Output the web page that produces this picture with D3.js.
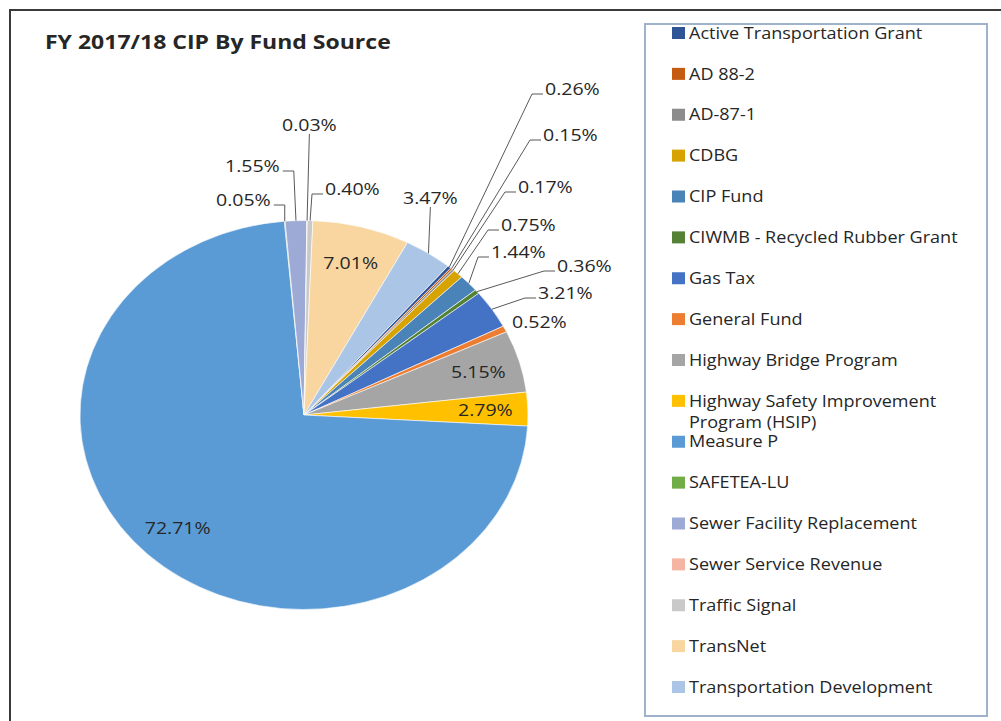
<!DOCTYPE html>
<html>
<head>
<meta charset="utf-8">
<style>
  body { margin: 0; background: #fff; }
  text { font-family: "Open Sans", sans-serif; fill: #262626; }
  .leader { fill: none; stroke: #595959; stroke-width: 1; }
</style>
</head>
<body>
<svg id="chart" width="1001" height="721"></svg>
<script src="https://cdn.jsdelivr.net/npm/d3@7"></script>
<script>
const categories = [
  "Active Transportation Grant", "AD 88-2", "AD-87-1", "CDBG", "CIP Fund",
  "CIWMB - Recycled Rubber Grant", "Gas Tax", "General Fund", "Highway Bridge Program",
  "Highway Safety Improvement Program (HSIP)", "Measure P", "SAFETEA-LU",
  "Sewer Facility Replacement", "Sewer Service Revenue", "Traffic Signal", "TransNet",
  "Transportation Development"
]
const shares = [0.26, 0.15, 0.17, 0.75, 1.44, 0.36, 3.21, 0.52, 5.15, 2.79, 72.71, 0.05, 1.55, 0.03, 0.40, 7.01, 3.47]
const colors = [
  "#2F5597", "#C55A11", "#8C8C8C", "#D6A300", "#4A83B8", "#548235", "#4472C4", "#ED7D31",
  "#A5A5A5", "#FFC000", "#5B9BD5", "#70AD47", "#9EAAD6", "#F4B6A2", "#C9C9C9", "#F9D6A0", "#AAC5E5"
]
// where excel put the small labels: text left / middle, relative to pie centre
// null = label sits inside the slice
const outsideLabels = [
  { dx: 241, dy: -326, side: "left" },
  { dx: 239, dy: -280, side: "left" },
  { dx: 214, dy: -228, side: "left" },
  { dx: 197, dy: -190, side: "left" },
  { dx: 187, dy: -163, side: "left" },
  { dx: 253, dy: -149, side: "left" },
  { dx: 234, dy: -122, side: "left" },
  { dx: 208, dy: -93, side: "none" },
  null, null, null,
  { dx: -88, dy: -215, side: "right" },
  { dx: -79, dy: -249, side: "right" },
  { dx: -22, dy: -290, side: "bottom" },
  { dx: 21, dy: -226, side: "left" },
  null,
  { dx: 99, dy: -217, side: "bottom" }
]

const svg = d3.select("#chart")
const cx = 304, cy = 415, R = 194.5
const sx = 224 / R      // the picture is stretched sideways
const stretch = 1.15

function addText(g, x, y, str, size) {
  return g.append("text")
    .attr("transform", "translate(" + x + "," + y + ") scale(" + stretch + ",1)")
    .attr("dy", "0.36em")
    .style("font-size", size + "px")
    .text(str)
}

// chart frame
svg.append("rect")
  .attr("x", 10).attr("y", 10).attr("width", 1100).attr("height", 800)
  .attr("fill", "none").attr("stroke", "#3a3a3a").attr("stroke-width", 2)

addText(svg, 45, 42, "FY 2017/18 CIP By Fund Source", 20).style("font-weight", "bold")

// pie
let pie = d3.pie().sort(null).value(d => d)
  .startAngle(40 * Math.PI / 180)
  .endAngle(40 * Math.PI / 180 + 2 * Math.PI)
let arcs = pie(shares)
let arc = d3.arc().innerRadius(0).outerRadius(R)
let edgeArc = d3.arc().innerRadius(R).outerRadius(R)
let insideArc = d3.arc().innerRadius(R * 0.81).outerRadius(R * 0.81)

let pieG = svg.append("g").attr("transform", "translate(" + cx + "," + cy + ") scale(" + sx + ",1)")
pieG.selectAll("path")
  .data(arcs)
  .enter().append("path")
  .attr("d", arc)
  .attr("fill", (d, i) => colors[i])
  .attr("stroke", "#fff")
  .attr("stroke-width", 0.6)
  .attr("vector-effect", "non-scaling-stroke")

const toPage = p => [cx + sx * p[0], cy + p[1]]
const fmt = v => v.toFixed(2) + "%"

let labelG = svg.append("g")
let lineG = svg.append("g")
arcs.forEach((d, i) => {
  let spec = outsideLabels[i]
  if (!spec) {
    let c = toPage(insideArc.centroid(d))
    addText(labelG, c[0], c[1], fmt(shares[i]), 17).attr("text-anchor", "middle")
    return
  }
  let lx = cx + spec.dx, ly = cy + spec.dy
  let t = addText(labelG, lx, ly, fmt(shares[i]), 17)
  let w = t.node().getComputedTextLength() * stretch
  let e = toPage(edgeArc.centroid(d))
  let pts = null
  if (spec.side == "left") {
    let a = [lx - 2, ly + 5]
    pts = [e, [a[0] - 11, a[1]], a]
  } else if (spec.side == "right") {
    let a = [lx + w + 3, ly + 5]
    pts = [e, [a[0] + 11, a[1]], a]
  } else if (spec.side == "bottom") {
    pts = [e, [lx + w / 2, ly + 9]]
  }
  if (pts) lineG.append("path").attr("class", "leader").attr("d", d3.line()(pts))
})

// legend
let legend = svg.append("g")
legend.append("rect")
  .attr("x", 645).attr("y", 24).attr("width", 342).attr("height", 692)
  .attr("fill", "none").attr("stroke", "#9fb2cc").attr("stroke-width", 2)

let legendY = d3.scaleLinear().domain([0, categories.length - 1]).range([33, 687])
categories.forEach((name, i) => {
  let y = legendY(i)
  legend.append("rect")
    .attr("x", 672).attr("y", y - 6).attr("width", 13).attr("height", 12)
    .attr("fill", colors[i])
  if (name.indexOf("(HSIP)") > 0) {
    let t = addText(legend, 689, y, "", 15.7)
    t.append("tspan").attr("x", 0).text("Highway Safety Improvement")
    t.append("tspan").attr("x", 0).attr("dy", 21.5).text("Program (HSIP)")
  } else {
    addText(legend, 689, y, name, 15.7)
  }
})
</script>
</body>
</html>
